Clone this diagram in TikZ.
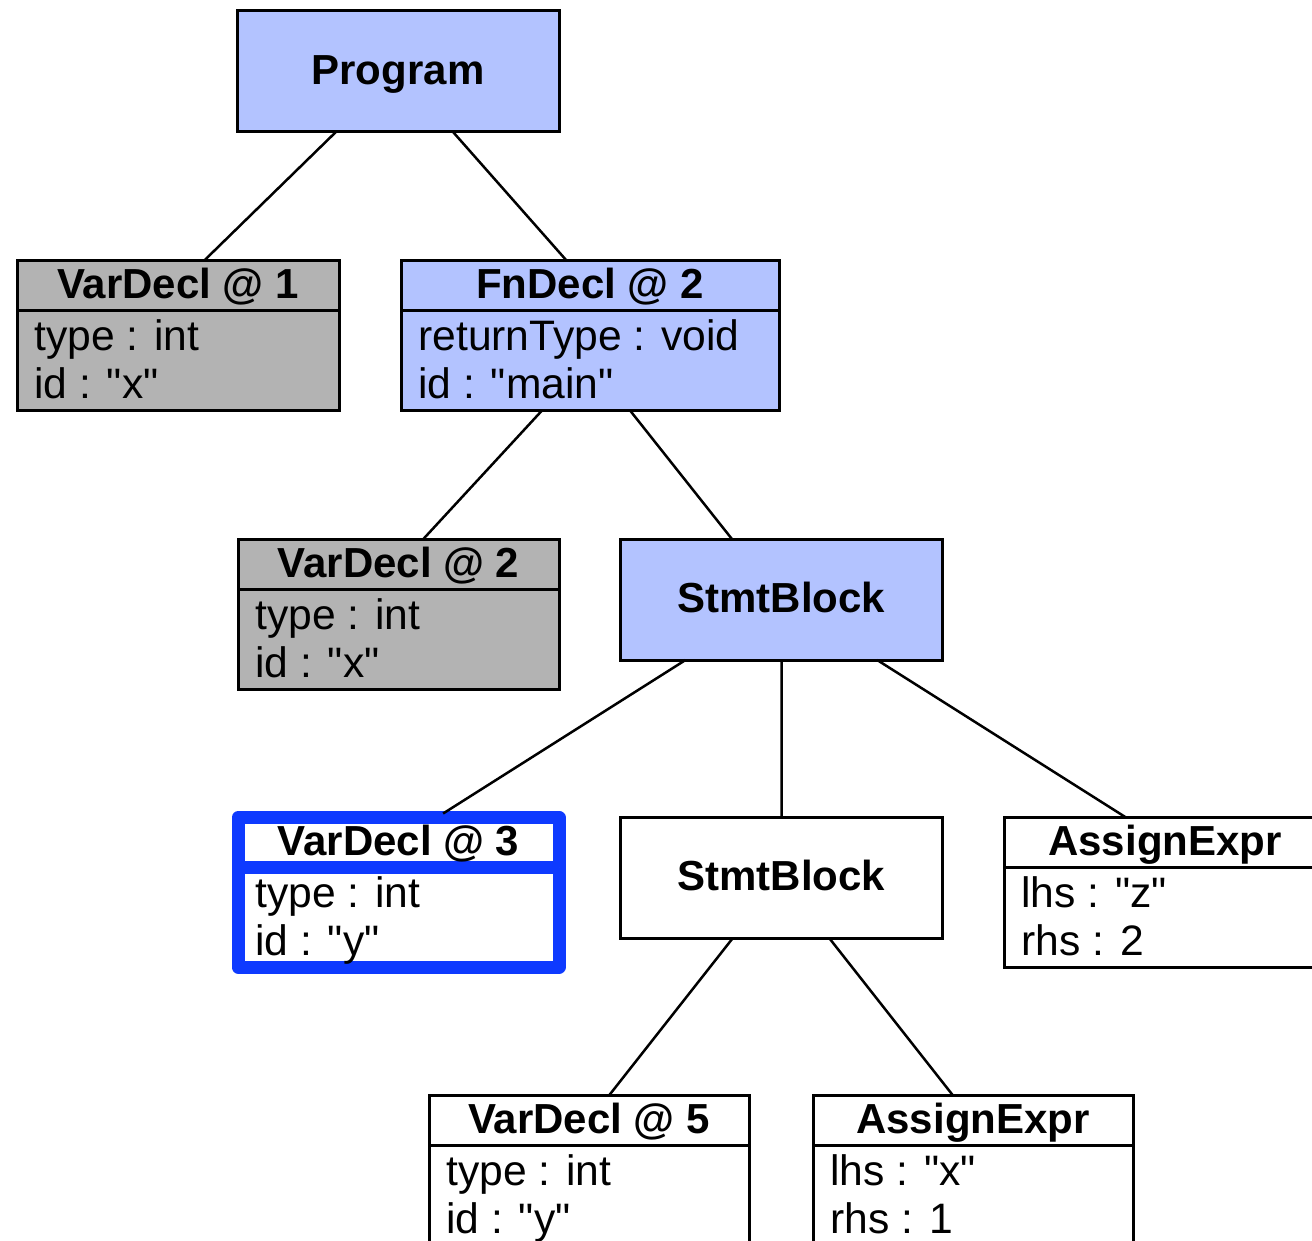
\documentclass[tikz,border=0pt]{standalone}
\usepackage{fontspec}
\setmainfont{Liberation Sans}[Ligatures=TeXOff]
\usetikzlibrary{calc}

\definecolor{boxblue}{RGB}{179,195,255}
\definecolor{boxgray}{RGB}{179,179,179}
\definecolor{hlblue}{RGB}{14,58,255}

\tikzset{
  box/.style={draw=black, line width=1.5pt, inner sep=0pt, outer sep=0pt, minimum width=161pt},
  bluebox/.style={fill=boxblue},
  graybox/.style={fill=boxgray},
  whitebox/.style={fill=white},
  hlbox/.style={fill=white, draw=hlblue, line width=6.5pt, line join=round},
  titletext/.style={font=\bfseries\fontsize{21}{25}\selectfont, inner sep=0pt},
  bodytext/.style={font=\fontsize{21.3}{25}\selectfont, inner sep=0pt},
  edge/.style={draw=black, line width=1.25pt},
}

% record box: name, left x, right x, top y, style, title, first field, second field
\newcommand\recbox[8]{%
  \node[box,#5,minimum width={0.5pt*(#3-#2)},minimum height=74.75pt]
    (#1) at ({(#2+#3)/2},{#4+74.75}) {};
  \draw[line width=1.5pt,#5] ($(#1.north west)+(0,49.5)$) -- ($(#1.north east)+(0,49.5)$);
  \node[titletext,anchor=base] (#1-title) at ($(#1.north)+(0,38)$) {#6};
  \node[bodytext,anchor=base west] (#1-a) at ($(#1.north west)+(17,89.5)$) {#7};
  \node[bodytext,anchor=base west] (#1-b) at ($(#1.north west)+(17,137.5)$) {#8};
}

% plain box: name, centre x, centre y, style, title
\newcommand\plainbox[5]{%
  \node[box,#4,minimum height=60.5pt,titletext,text height=13.2pt,text depth=0pt]
    (#1) at (#2,#3) {#5};
}

\begin{document}
\begin{tikzpicture}[x=0.5pt,y=-0.5pt]
  \useasboundingbox (0,0) rectangle (1312,1241);
  \clip (0,0) rectangle (1312,1241);

  % nodes
  \plainbox{prog}{398}{71.5}{bluebox}{Program}
  \recbox{vd1}{17}{339}{261}{graybox}{VarDecl @ 1}{type : int}{id : "x"}
  \recbox{fn}{401}{779}{261}{bluebox}{FnDecl @ 2}{returnType : void}{id : "main"}
  \recbox{vd2}{238}{559}{539.5}{graybox}{VarDecl @ 2}{type : int}{id : "x"}
  \plainbox{sb1}{781.5}{599.5}{bluebox}{StmtBlock}
  \recbox{vd3}{238}{559}{817.5}{hlbox}{VarDecl @ 3}{type : int}{id : "y"}
  \plainbox{sb2}{781.5}{877.5}{whitebox}{StmtBlock}
  \recbox{ae1}{1004}{1326}{817.5}{whitebox}{AssignExpr}{lhs : "z"}{rhs : 2}
  \recbox{vd5}{429}{749}{1095.5}{whitebox}{VarDecl @ 5}{type : int}{id : "y"}
  \recbox{ae2}{813}{1133}{1095.5}{whitebox}{AssignExpr}{lhs : "x"}{rhs : 1}

  % tree edges
  \path[edge]
    ($(prog.south west)!0.307!(prog.south east)$) -- ($(vd1.north west)!0.58!(vd1.north east)$)
    ($(prog.south west)!0.671!(prog.south east)$) -- ($(fn.north west)!0.439!(fn.north east)$)
    ($(fn.south west)!0.373!(fn.south east)$) -- ($(vd2.north west)!0.576!(vd2.north east)$)
    ($(fn.south west)!0.606!(fn.south east)$) -- ($(sb1.north west)!0.346!(sb1.north east)$)
    ($(sb1.south west)!0.202!(sb1.south east)$) -- ($(vd3.north west)!0.639!(vd3.north east)+(0,-4)$)
    (sb1.south) -- (sb2.north)
    ($(sb1.south west)!0.797!(sb1.south east)$) -- ($(ae1.north west)!0.379!(ae1.north east)$)
    ($(sb2.south west)!0.349!(sb2.south east)$) -- ($(vd5.north west)!0.5625!(vd5.north east)$)
    ($(sb2.south west)!0.648!(sb2.south east)$) -- ($(ae2.north west)!0.4375!(ae2.north east)$);
\end{tikzpicture}
\end{document}
